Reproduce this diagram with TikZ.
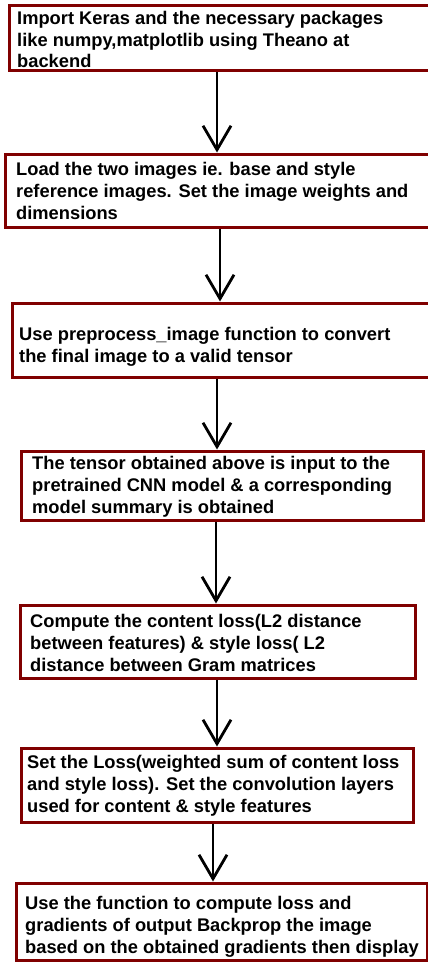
\documentclass[tikz,border=0pt]{standalone}
\usepackage{fontspec}
\setmainfont{Liberation Sans}
\usetikzlibrary{arrows.meta}
\definecolor{boxred}{HTML}{800000}
\tikzset{
  stepbox/.style={draw=boxred, line width=3pt, fill=white, inner sep=0pt},
  % base anchor sits on the last line of a multi-line node
  steptext/.style={anchor=base west, inner sep=0pt, align=left,
    font=\fontsize{18.3}{21.7}\selectfont\bfseries},
  flow/.style={line width=2.8pt, -{Straight Barb[length=24pt, width=28pt, line width=2.8pt]}}
}
\begin{document}
\begin{tikzpicture}[x=1pt, y=-1pt]
\clip (0,0) rectangle (428,963);
\fill[white] (0,0) rectangle (428,963);

% process boxes (centre, size)
\node[stepbox, minimum width=425pt, minimum height=65pt] (b1) at (221.5,38.5) {};
\node[stepbox, minimum width=429pt, minimum height=73pt] (b2) at (219.5,190.5) {};
\node[stepbox, minimum width=422pt, minimum height=74pt] (b3) at (223,340) {};
\node[stepbox, minimum width=402pt, minimum height=69pt] (b4) at (222,485.5) {};
\node[stepbox, minimum width=395pt, minimum height=73pt] (b5) at (217.5,641.5) {};
\node[stepbox, minimum width=392pt, minimum height=74pt] (b6) at (217,785) {};
\node[stepbox, minimum width=411pt, minimum height=77pt] (b7) at (221.5,921.5) {};

% step descriptions
\node[steptext] (t1) at (17,68) {Import Keras and the necessary packages\\like numpy,matplotlib using Theano at\\backend};
\node[steptext] (t2) at (16,219) {Load the two images ie. base and style\\reference images. Set the image weights and\\dimensions};
\node[steptext] (t3) at (19,362) {Use preprocess\_image function to convert\\the final image to a valid tensor};
\node[steptext] (t4) at (32,513) {The tensor obtained above is input to the\\pretrained CNN model \& a corresponding\\model summary is obtained};
\node[steptext] (t5) at (30,671) {Compute the content loss(L2 distance\\between features) \& style loss( L2\\distance between Gram matrices};
\node[steptext] (t6) at (27,812) {Set the Loss(weighted sum of content loss\\and style loss). Set the convolution layers\\used for content \& style features};
\node[steptext] (t7) at (25,953) {Use the function to compute loss and\\gradients of output Backprop the image\\based on the obtained gradients then display};

% connectors
\draw[flow] ([xshift=-4.5pt]b1.south) -- ([xshift=-2.5pt]b2.north);
\draw[flow] ([xshift=0.5pt]b2.south) -- ([xshift=-3pt]b3.north);
\draw[flow] ([xshift=-6pt]b3.south) -- ([xshift=-5pt]b4.north);
\draw[flow] ([xshift=-6pt]b4.south) -- ([xshift=-1.5pt]b5.north);
\draw[flow] ([xshift=-0.5pt]b5.south) -- ([xshift=0pt]b6.north);
\draw[flow] ([xshift=-4pt]b6.south) -- ([xshift=-8.5pt]b7.north);
\end{tikzpicture}
\end{document}
